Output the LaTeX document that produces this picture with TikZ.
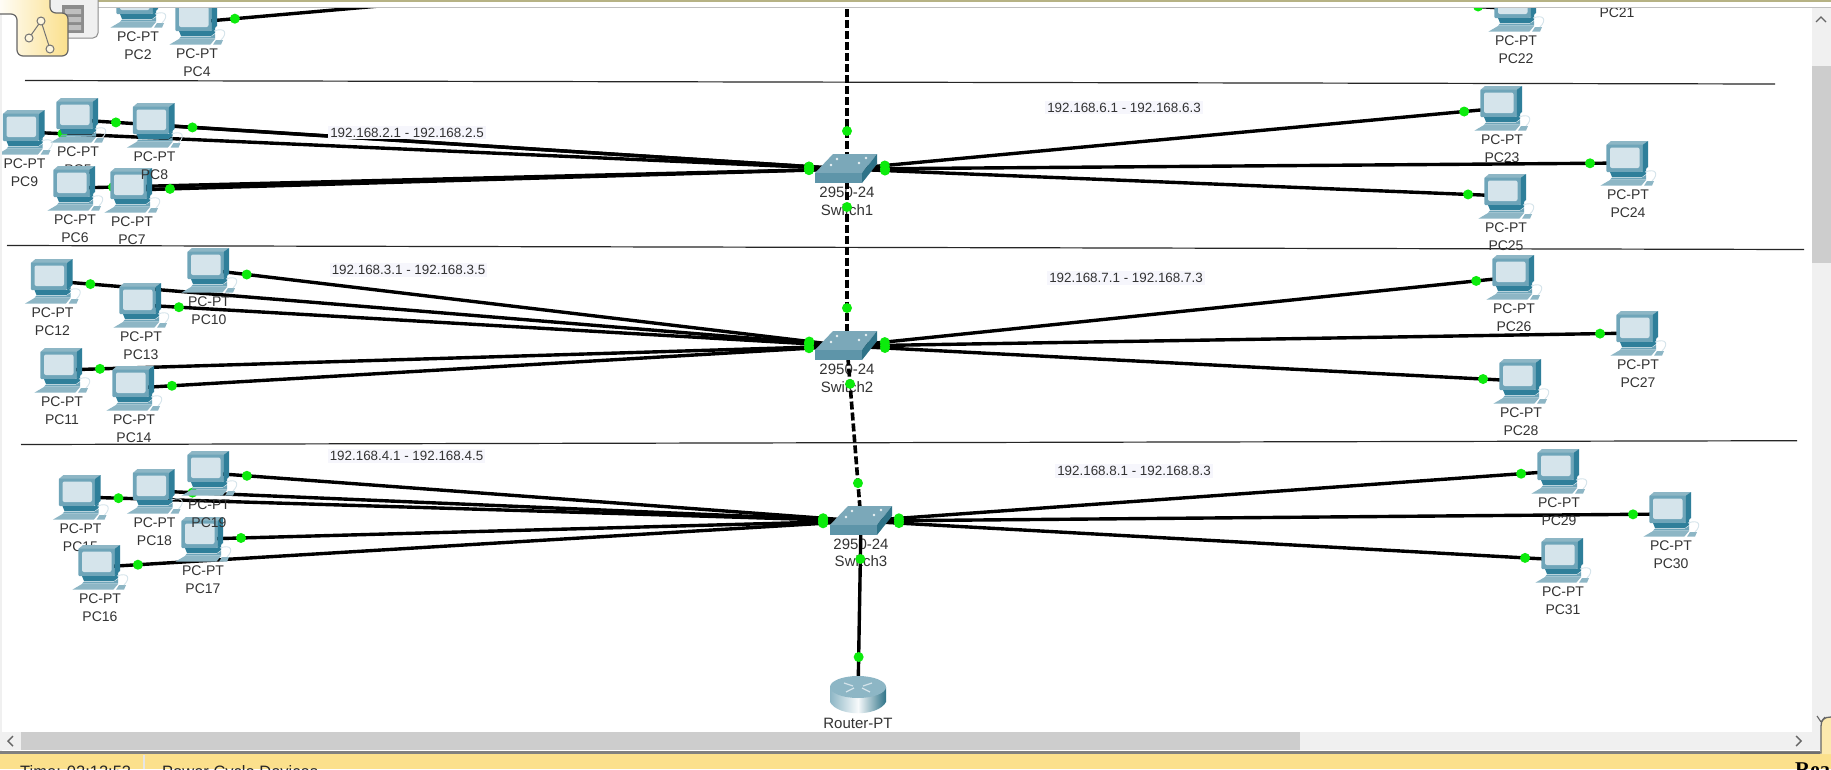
\documentclass[tikz,border=0pt]{standalone}
\usepackage{fontspec}
\setmainfont{Liberation Sans}
\newfontfamily\seriffont{Liberation Serif}
\usetikzlibrary{calc}
\pgfdeclarelayer{background}
\pgfdeclarelayer{ports}
\pgfdeclarelayer{foreground}
\pgfdeclarelayer{chrome}
\pgfsetlayers{background,main,ports,foreground,chrome}
\definecolor{pcdark}{HTML}{2F7F9A}
\definecolor{pcmid}{HTML}{6FA5B9}
\definecolor{pclite}{HTML}{8DB6C5}
\definecolor{pcscreen}{HTML}{D5E4EB}
\definecolor{swtop}{HTML}{7BA8B9}
\definecolor{swfront}{HTML}{5E95A9}
\definecolor{swside}{HTML}{2F7388}
\definecolor{portgreen}{HTML}{0CEB0C}
\definecolor{notefill}{HTML}{F6F6FC}
\definecolor{barthumb}{HTML}{CDCDCD}
\definecolor{barback}{HTML}{F0F0F0}
\definecolor{statusyellow}{HTML}{FBE08C}
\tikzset{
  pcbox/.style={inner sep=0pt,minimum size=1pt},
  pctext/.style={align=center,text=black!80,inner sep=0pt,font=\fontsize{14}{18}\selectfont},
  swtext/.style={align=center,text=black!80,inner sep=0pt,font=\fontsize{15}{17.5}\selectfont},
  notetext/.style={fill=notefill,text=black!80,inner sep=2pt,font=\fontsize{13.4}{16}\selectfont},
  portdot/.style={circle,fill=portgreen,inner sep=0pt,minimum size=10pt},
  netline/.style={line width=3.4pt,black},
  dashline/.style={line width=3.6pt,black,dash pattern=on 8pt off 3pt},
  sepline/.style={line width=1.2pt,black!85},
  pics/pcicon/.style={code={
    \fill[pclite] (-21.7,4) -- (-17,0) -- (20,0) -- (14.3,4) -- cycle;
    \fill[pcmid,rounded corners=1pt] (-21.7,3.5) rectangle (14.3,31);
    \fill[pcdark] (14.3,4) -- (20,0) -- (20,26) -- (14.3,31) -- cycle;
    \fill[pcscreen,rounded corners=2pt] (-18,6.5) rectangle (11.5,27);
    \fill[pcdark] (-18,31) -- (14.3,31) -- (18,27.5) -- (18,33) -- (14,36) -- (-16,36) -- cycle;
    \fill[pcmid] (-16,36.5) -- (14,36.5) -- (18,34) -- (18,38.5) -- (-18,38.5) -- cycle;
    \fill[pclite] (-18,39) -- (18,39) -- (13.3,44.7) -- (-27.7,44.7) -- cycle;
    \fill[pclite] (19,40) -- (26,40) -- (24,44.7) -- (16,44.7) -- cycle;
    \draw[pcscreen,line width=.9pt] (17,31) .. controls (28,27) and (31,33) .. (24,40);
  }},
  pics/swicon/.style={code={
    \fill[swtop] (-32,19) -- (15,19) -- (30,0) -- (-14,0) -- cycle;
    \fill[swfront] (-32,19) rectangle (15,29);
    \fill[swside] (15,19) -- (30,0) -- (30,10) -- (15,29) -- cycle;
    \fill[white!85!swtop] (-10,5) circle (1.3) (19,4) circle (1.3) (-16,11) circle (1.3) (12,9) circle (1.3);
  }},
  pics/rtricon/.style={code={
    \shade[left color=pclite,right color=swside,middle color=white!80!pcscreen]
      (-28,11) -- (-28,26) .. controls (-20,41) and (20,41) .. (28,26) -- (28,11) -- cycle;
    \fill[pclite] (0,11) ellipse [x radius=28,y radius=11];
    \draw[pcscreen,line width=1.2pt] (-14,7) -- (-5,10) (14,7) -- (5,10) (-12,16) -- (-4,12) (12,16) -- (4,12);
  }}
}
% one PC: name, x, top of icon, label
\newcommand{\pcnode}[4]{
  \node[pcbox] (#1) at (#2,#3+22) {};
  \pic at (#2,#3) {pcicon};
  \node[pctext] (#1l) at (#2,#3+63) {PC-PT\\#4};
}
% one link and the lights at both of its ends
\newcommand{\netlink}[3][netline]{
  \draw[#1] (#2) -- (#3);
  \begin{pgfonlayer}{ports}
  \node[portdot] (#2-#3-a) at ($(#2)!38pt!(#3)$) {};
  \node[portdot] (#2-#3-b) at ($(#3)!38pt!(#2)$) {};
  \end{pgfonlayer}
}
\begin{document}
\begin{tikzpicture}[x=1pt,y=-1pt]
\useasboundingbox (0,0) rectangle (1831,769);
\begin{pgfonlayer}{background}
\fill[white] (0,0) rectangle (1831,769);
\draw[sepline] (25,80.5) -- (1775,84);
\draw[sepline] (7,245.5) -- (1804,249.5);
\draw[sepline] (21,444.5) -- (1797,440.7);
\node[swtext] (sw1l) at (847,201.5) {2950-24\\Switch1};
\node[swtext] (sw2l) at (847,378.5) {2950-24\\Switch2};
\node[swtext] (sw3l) at (861,553) {2950-24\\Switch3};
\node[swtext] (rtrl) at (858,723) {Router-PT};
\end{pgfonlayer}
\begin{pgfonlayer}{foreground}
\coordinate (sw0) at (847,-35);
\node[pcbox] (sw1) at (847,169) {};
\pic at (847,154) {swicon};
\node[pcbox] (sw2) at (847,346) {};
\pic at (847,331) {swicon};
\node[pcbox] (sw3) at (861,521) {};
\pic at (862,506) {swicon};
\node[pcbox] (rtr) at (858,695) {};
\pic at (858,676) {rtricon};
\pcnode{pc2}{138}{-17}{PC2}
\pcnode{pc4}{197}{0}{PC4}
\pcnode{pc5}{78}{98}{PC5}
\pcnode{pc6}{75}{166}{PC6}
\pcnode{pc7}{132}{168}{PC7}
\pcnode{pc8}{154.5}{103}{PC8}
\pcnode{pc9}{24.5}{110}{PC9}
\pcnode{pc10}{209}{248}{PC10}
\pcnode{pc11}{62}{348}{PC11}
\pcnode{pc12}{52.5}{259}{PC12}
\pcnode{pc13}{141}{283}{PC13}
\pcnode{pc14}{134}{366}{PC14}
\pcnode{pc15}{80.5}{475}{PC15}
\pcnode{pc16}{100}{545}{PC16}
\pcnode{pc17}{203}{517}{PC17}
\pcnode{pc18}{154.5}{469}{PC18}
\pcnode{pc19}{209}{451}{PC19}
\node[pctext] (pc21l) at (1617,13) {PC21};
\pcnode{pc22}{1516}{-13}{PC22}
\pcnode{pc23}{1502}{86}{PC23}
\pcnode{pc24}{1628}{141}{PC24}
\pcnode{pc25}{1506}{174}{PC25}
\pcnode{pc26}{1514}{255}{PC26}
\pcnode{pc27}{1638}{311}{PC27}
\pcnode{pc28}{1521}{359}{PC28}
\pcnode{pc29}{1559}{449}{PC29}
\pcnode{pc30}{1671}{492}{PC30}
\pcnode{pc31}{1563}{538}{PC31}
\end{pgfonlayer}
\netlink{pc4}{sw0}
\netlink{pc22}{sw0}
\netlink[dashline]{sw0}{sw1}
\netlink{pc5}{sw1}
\netlink{pc6}{sw1}
\netlink{pc7}{sw1}
\netlink{pc8}{sw1}
\netlink{pc9}{sw1}
\netlink{pc23}{sw1}
\netlink{pc24}{sw1}
\netlink{pc25}{sw1}
\netlink[dashline]{sw1}{sw2}
\netlink{pc10}{sw2}
\netlink{pc11}{sw2}
\netlink{pc12}{sw2}
\netlink{pc13}{sw2}
\netlink{pc14}{sw2}
\netlink{pc26}{sw2}
\netlink{pc27}{sw2}
\netlink{pc28}{sw2}
\netlink[dashline]{sw2}{sw3}
\netlink{pc15}{sw3}
\netlink{pc16}{sw3}
\netlink{pc17}{sw3}
\netlink{pc18}{sw3}
\netlink{pc19}{sw3}
\netlink{pc29}{sw3}
\netlink{pc30}{sw3}
\netlink{pc31}{sw3}
\netlink{sw3}{rtr}
\begin{pgfonlayer}{ports}
\node[notetext] (note2) at (407,132.5) {192.168.2.1 - 192.168.2.5};
\node[notetext] (note3) at (408.5,270) {192.168.3.1 - 192.168.3.5};
\node[notetext] (note4) at (406.5,456) {192.168.4.1 - 192.168.4.5};
\node[notetext] (note6) at (1124,107.5) {192.168.6.1 - 192.168.6.3};
\node[notetext] (note7) at (1126,278) {192.168.7.1 - 192.168.7.3};
\node[notetext] (note8) at (1134,471) {192.168.8.1 - 192.168.8.3};
\end{pgfonlayer}
\begin{pgfonlayer}{chrome}
% window frame round the canvas
\fill[barback] (0,0) rectangle (1.5,769);
\fill[white] (0,0) rectangle (1831,8);
\fill[black!25] (0,6.5) rectangle (1831,8);
\fill[black!55!yellow!60!white] (50,0) rectangle (1831,1.5);
\fill[barback] (1812,8) rectangle (1831,732);
\fill[barthumb] (1812,66) rectangle (1831,263);
\draw[black!60,line width=1.3pt] (1816,22) -- (1821,17) -- (1826,22);
\fill[barthumb] (0,732) rectangle (1300,750);
\fill[barback] (1300,732) rectangle (1821,750);
\fill[barback] (0,732) rectangle (21,750);
\draw[black!60,line width=1.4pt] (13,736) -- (8,741) -- (13,746);
\draw[black!60,line width=1.4pt] (1796,736) -- (1801,741) -- (1796,746);
\fill[statusyellow] (0,754) rectangle (1831,769);
\fill[black!50] (0,751) rectangle (1820,754);
\fill[black!10] (143,755) rectangle (144.5,769);
\node[anchor=base west,inner sep=0pt,text=black!85,font=\fontsize{16.5}{18}\selectfont] (clock) at (20,777.5) {Time: 02:12:53};
\node[anchor=base west,inner sep=0pt,text=black!85,font=\fontsize{16.5}{18}\selectfont] (cycle) at (162,777.5) {Power Cycle Devices};
\fill[statusyellow!70!white] (1831,717) -- (1830,717) .. controls (1824,717) and (1821,720) .. (1821,726) -- (1821,754) -- (1831,754) -- cycle;
\draw[black!60,line width=1.3pt] (1831,717) .. controls (1824,717) and (1821,720) .. (1821,726) -- (1821,753) -- (1740,753);
\draw[black!60,line width=1.1pt] (1817,716) -- (1821,722) (1825,717) -- (1821,722);
\node[anchor=base west,inner sep=0pt,font=\seriffont\bfseries\fontsize{21}{24}\selectfont] (mode) at (1795,776) {Rea};
% logical view tab in the corner
\fill[barback,draw=black!45,line width=1pt,rounded corners=5pt] (48,-6) rectangle (98,38);
\fill[black!45] (62,5) rectangle (84,33);
\fill[black!25] (65,9) rectangle (81,14) (65,17) rectangle (81,22) (65,25) rectangle (81,30);
\shade[left color=white,right color=statusyellow,draw=black!60,line width=1.2pt,rounded corners=6pt]
  (-6,-6) -- (-6,14) -- (17,14) -- (17,56) -- (68,56) -- (68,13) -- (50,13) -- (50,-6) -- cycle;
\draw[black!55,line width=1pt] (29,38) -- (41,21) -- (50,49);
\filldraw[fill=white!70!statusyellow,draw=black!55,line width=1pt] (41,21) circle (4) (29,38) circle (4) (50,49) circle (4);
\end{pgfonlayer}
\end{tikzpicture}
\end{document}
